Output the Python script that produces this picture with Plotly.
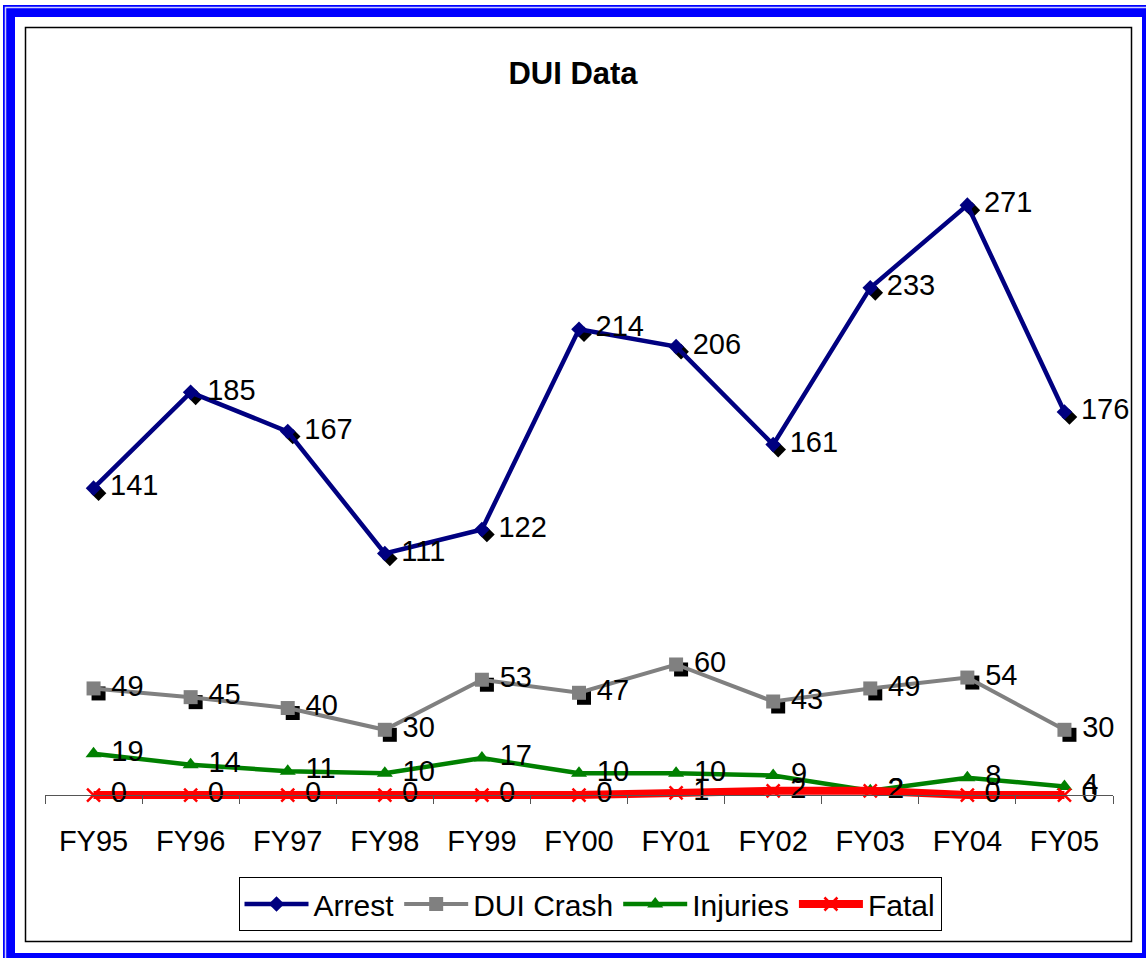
import plotly.graph_objects as go

# --- data ---
years = ["FY95", "FY96", "FY97", "FY98", "FY99", "FY00", "FY01", "FY02", "FY03", "FY04", "FY05"]
arrest = [141, 185, 167, 111, 122, 214, 206, 161, 233, 271, 176]
dui_crash = [49, 45, 40, 30, 53, 47, 60, 43, 49, 54, 30]
injuries = [19, 14, 11, 10, 17, 10, 10, 9, 2, 8, 4]
fatal = [0, 0, 0, 0, 0, 0, 1, 2, 2, 0, 0]

FONT = "Arial, 'Liberation Sans', sans-serif"
W, H = 1146, 958
L, R, T, B = 45, 33, 142, 152
PW, PH = W - L - R, H - T - B
Y_MIN, Y_MAX = -5, 300
N = len(years)

# shadow offset (pixels -> axis units)
SH = 5
dx = SH * N / PW
dy = SH * (Y_MAX - Y_MIN) / PH


def xp(px):
    return (px - L) / PW


def yp(py):
    return (H - B - py) / PH


fig = go.Figure()

# --- black marker shadows (base axes, shifted) ---
for vals, sym, size in [(arrest, "diamond", 12), (dui_crash, "square", 14)]:
    fig.add_trace(go.Scatter(
        x=years, y=vals, mode="markers",
        marker=dict(symbol=sym, size=size, color="black"),
        showlegend=False, hoverinfo="skip",
        xaxis="x", yaxis="y",
    ))

# --- main series ---
series = [
    ("Arrest", arrest, "#000080", "diamond", 12, 4.5),
    ("DUI Crash", dui_crash, "#808080", "square", 14, 4),
    ("Injuries", injuries, "#008000", "triangle-up", 14, 4.5),
]
for name, vals, color, sym, size, lw in series:
    fig.add_trace(go.Scatter(
        x=years, y=vals, name=name, mode="lines+markers+text",
        line=dict(color=color, width=lw),
        marker=dict(symbol=sym, size=size, color=color),
        text=[str(v) for v in vals], texttemplate=" %{text}",
        textposition="middle right",
        textfont=dict(family=FONT, size=29, color="black"),
        cliponaxis=False,
        xaxis="x2", yaxis="y2",
    ))

fig.add_trace(go.Scatter(
    x=years, y=fatal, name="Fatal", mode="lines+markers+text",
    line=dict(color="#FF0000", width=8),
    marker=dict(symbol="x-thin", size=13, color="#FF0000",
                line=dict(color="#FF0000", width=2.5)),
    text=[str(v) for v in fatal], texttemplate=" %{text}",
    textposition="middle right",
    textfont=dict(family=FONT, size=29, color="black"),
    cliponaxis=False,
    xaxis="x2", yaxis="y2",
))

# --- frames ---
shapes = [
    # outer blue frame
    dict(type="rect", xref="paper", yref="paper",
         x0=xp(9), x1=xp(1148), y0=yp(959), y1=yp(11),
         line=dict(color="#0000FF", width=12), layer="below"),
    dict(type="rect", xref="paper", yref="paper",
         x0=xp(5.5), x1=xp(1151.5), y0=yp(962.5), y1=yp(7.5),
         line=dict(color="#d0d0ff", width=1.5), layer="below"),
    # inner chart-area border
    dict(type="rect", xref="paper", yref="paper",
         x0=xp(25.5), x1=xp(1131.5), y0=yp(941.5), y1=yp(27.5),
         line=dict(color="black", width=1.5), layer="below"),
]

fig.update_layout(
    width=W, height=H,
    margin=dict(l=L, r=R, t=T, b=B),
    paper_bgcolor="white", plot_bgcolor="rgba(0,0,0,0)",
    font=dict(family=FONT, size=29, color="black"),
    title=dict(text="<b>DUI Data</b>", x=0.5, xanchor="center",
               y=1 - 73 / H, yanchor="middle",
               font=dict(family=FONT, size=31, color="black")),
    xaxis=dict(range=[-0.5 - dx, N - 0.5 - dx], visible=False, type="category"),
    yaxis=dict(range=[Y_MIN + dy, Y_MAX + dy], visible=False),
    xaxis2=dict(
        overlaying="x", anchor="free", position=-Y_MIN / (Y_MAX - Y_MIN),
        type="category", range=[-0.5, N - 0.5],
        showline=True, linecolor="#555555", linewidth=1,
        ticks="outside", tickson="boundaries", ticklen=8, tickcolor="#555555",
        showgrid=False, zeroline=False,
        tickfont=dict(family=FONT, size=29, color="black"),
        ticklabelstandoff=20,
    ),
    yaxis2=dict(overlaying="y", range=[Y_MIN, Y_MAX], visible=False),
    legend=dict(
        orientation="h", x=xp(590), xanchor="center", y=yp(877), yanchor="top",
        bordercolor="black", borderwidth=1, bgcolor="white",
        font=dict(family=FONT, size=30, color="black"),
        itemwidth=64, traceorder="normal",
    ),
    shapes=shapes,
)

fig.write_html("out.html", config={"displayModeBar": False},
               post_script="document.body.style.margin='0';")
